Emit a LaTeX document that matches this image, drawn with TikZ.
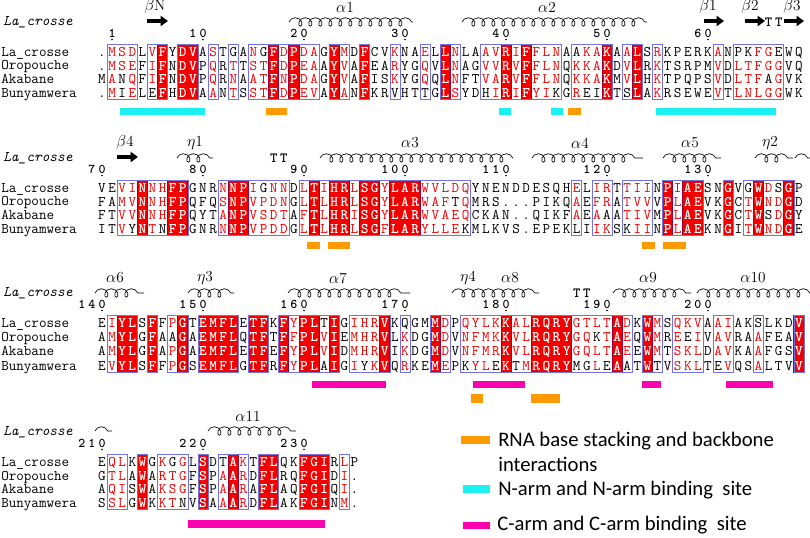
\documentclass[tikz,border=0pt]{standalone}
\usepackage{fontspec}
\setsansfont{Carlito}
\usepackage{tikz}
\usetikzlibrary{arrows.meta,decorations.pathmorphing}
\definecolor{espred}{HTML}{F20000}
\definecolor{espdark}{HTML}{9C0030}
\definecolor{espblue}{HTML}{7272E6}
\definecolor{rnaorange}{HTML}{FF9A00}
\definecolor{narmcyan}{HTML}{1CF0F0}
\definecolor{carmpink}{HTML}{FF00B0}
\tikzset{
  resblack/.style={font=\fontsize{11}{11}\ttfamily,inner sep=0pt,text height=6.7pt,text depth=0pt},
  resred/.style={resblack,text=espred},
  reswhite/.style={resblack,font=\fontsize{11}{11}\ttfamily\bfseries,text=white},
  resnum/.style={resblack,font=\fontsize{10}{10}\ttfamily\bfseries},
  resfill/.style={fill=espred,draw=espdark,line width=0.6pt},
  resbox/.style={draw=espblue,line width=0.5pt},
  seqname/.style={font=\fontsize{11}{11}\ttfamily,anchor=west,inner sep=0pt,text height=6.6pt,text depth=0pt},
  seqhead/.style={seqname,font=\fontsize{11}{11}\ttfamily\itshape},
  sslabel/.style={font=\fontsize{11.5}{11.5}\selectfont,inner sep=0pt},
  helix/.style={decorate,decoration={coil,aspect=0.9,amplitude=3.2pt,segment length=7.5pt},line width=0.5pt},
  strand/.style={line width=2.6pt,-{Triangle[length=5.5pt,width=7.5pt]}},
  ssturn/.style={font=\fontsize{10.5}{10.5}\ttfamily\bfseries,inner sep=0pt},
  legendtext/.style={font=\fontsize{15.5}{18}\sffamily,anchor=base west,inner sep=0pt}
}
\newcount\rescol
\newcommand\seqrow[5][resblack]{%
  \tikzset{resplain/.style={#1}}%
  \def\resid{#2}\rescol=#3\relax\def\resy{#4}\resscan#5\relax}
\newcommand\resscan[1]{%
  \ifx\relax#1\let\resnext\relax
  \else\ifx!#1\let\resnext\resbold
  \else
    \ifnum`#1>`Z\relax
      \node[resred] (\resid-\the\rescol) at ({102+10.1*\the\rescol},\resy) {\uppercase{#1}};%
    \else
      \node[resplain] (\resid-\the\rescol) at ({102+10.1*\the\rescol},\resy) {#1};%
    \fi
    \advance\rescol by 1\relax
    \let\resnext\resscan
  \fi\fi\resnext}
\newcommand\resbold[1]{%
  \node[reswhite] (\resid-\the\rescol) at ({102+10.1*\the\rescol},\resy) {#1};%
  \advance\rescol by 1\relax\resscan}

\begin{document}
\begin{tikzpicture}[x=0.75pt,y=-0.75pt]
\useasboundingbox (0,0) rectangle (810,538);

% block 1: residues 1-69
\foreach \a/\b in {6/6,8/9,17/17,19/19,23/23,26/26,34/34,40/40,42/42,50/50,53/53}
  \fill[resfill] (\a*10.1+96.95,44) rectangle (\b*10.1+107.05,99.5);
\foreach \a/\b in {1/3,5/6,8/9,11/11,13/13,15/21,23/24,26/26,29/29,32/32,34/35,38/45,47/50,52/53,55/55,61/61,63/67}
  \draw[resbox] (\a*10.1+96.95,44) rectangle (\b*10.1+107.05,99.5);
\node[seqhead] (hd1) at (3,21) {La\_crosse};
\node[seqname] (la1) at (1,52) {La\_crosse};
\node[seqname] (or1) at (1,65.6) {Oropouche};
\node[seqname] (ak1) at (1,79.2) {Akabane};
\node[seqname] (bu1) at (1,92.8) {Bunyamwera};
\seqrow{lac1}{0}{52}{.msdL v!FY!D!V AsTGA nG!Fd!P daG!Ym D!FCVkN AeL!Ln LAav!R i!Ffln AAka!K Aa!LSr KPERK aNPKfg EWQ}
\seqrow{oro1}{0}{65.6}{.mseFi!FN!D!V PqRtTst!Fd!P eaA!YvA!FEArY GqV!LnAGvv!R v!FflnQkka!K Dv!LRkTSRPM vDltfggVQ}
\seqrow{aka1}{0}{79.2}{MaNqFi!FN!D!V PqRnAat!Fn!P daG!YvA!FISkY GqQ!LnFTva!R v!FflnQkka!K Mv!LHkTPQPS vDltfAgVK}
\seqrow{bun1}{0}{92.8}{.mIeLE!FH!D!V AaNtSst!Fd!P evA!YaN!FKRVH TTG!LsYDHi!R i!FyiKGrEI!K TS!LAkRSEWE vTlnlggWK}
\foreach \s/\e/\n in {1/1/1,9/10/10,19/20/20,29/30/30,39/40/40,49/50/50,59/60/60}{
  \edef\numrow{\noexpand\seqrow[resnum]{nb1x\n}{\s}{33}{\n}}\numrow
  \fill (\e*10.1+102,39.5) circle[radius=0.9];}
\node[sslabel] (bN) at (155,7) {$\beta$N};
\draw[strand] (147,21) -- (168,21);
\node[sslabel] (a1) at (345,7) {$\alpha$1};
\draw[helix] (289,22) -- (413,22);
\node[sslabel] (a2) at (547,7) {$\alpha$2};
\draw[helix] (462,22) -- (647,22);
\node[sslabel] (b1) at (708,7) {$\beta$1};
\draw[strand] (704,21) -- (724,21);
\node[sslabel] (b2) at (750,7) {$\beta$2};
\draw[strand] (745,21) -- (765,21);
\node[ssturn] (t1a) at (768.6,22) {T};
\node[ssturn] (t1b) at (778.7,22) {T};
\node[sslabel] (b3) at (792,7) {$\beta$3};
\draw[strand] (784,21) -- (804,21);
\foreach \a/\b in {120/205,499/511,551/563,656/776}
  \fill[narmcyan] (\a,108) rectangle (\b,115.5);
\foreach \a/\b in {266/287,568/581}
  \fill[rnaorange] (\a,108) rectangle (\b,115.5);

% block 2: residues 70-139
\begin{scope}[shift={(0,136)}]
\foreach \a/\b in {4/4,7/8,13/14,21/21,23/24,26/27,29/31,56/56,58/59,62/62,65/65,68/68}
  \fill[resfill] (\a*10.1+96.95,44) rectangle (\b*10.1+107.05,99.5);
\foreach \a/\b in {2/8,12/18,20/36,47/47,49/50,52/54,56/59,62/62,64/68}
  \draw[resbox] (\a*10.1+96.95,44) rectangle (\b*10.1+107.05,99.5);
\node[seqhead] (hd2) at (3,21) {La\_crosse};
\node[seqname] (la2) at (1,52) {La\_crosse};
\node[seqname] (or2) at (1,65.6) {Oropouche};
\node[seqname] (ak2) at (1,79.2) {Akabane};
\node[seqname] (bu2) at (1,92.8) {Bunyamwera};
\seqrow{lac2}{0}{52}{VEvi!Nnh!F!PG NRn!N!PiGnnD l!Ti!H!Rl!S!Gy!L !A!Rwvldq YNE NDDESQHeLi rTtiiN!Pi!A!E SN!GVG!WdS!GP}
\seqrow{oro2}{0}{65.6}{FAmv!Nnh!F!PQ FQs!N!PvpdnG l!Tl!H!Rl!S!Gy!L !A!RwafTqMRS ...PIKQaEf rAtvvV!Pl!A!E VK!GCt!Wnd!GD}
\seqrow{aka2}{0}{79.2}{FTvv!Nnh!F!PQ YTa!N!PvsdtA f!Tl!H!Ri!S!Gy!L !A!RwvaeqCKA N..QIKFaEa AAtivM!Pl!A!E VK!GCt!WSd!GY}
\seqrow{bun2}{0}{92.8}{ITvY!NtN!F!PG NRn!N!PvpddG l!Tl!H!Rl!S!Gf!L !A!RylleKMLK VS.EPEKLIi kSKiiN!Pl!A!E KN!GIt!Wnd!GE}
\foreach \s/\e/\n in {-1/0/70,9/10/80,19/20/90,28/30/100,38/40/110,48/50/120,58/60/130}{
  \edef\numrow{\noexpand\seqrow[resnum]{nb2x\n}{\s}{33}{\n}}\numrow
  \fill (\e*10.1+102,39.5) circle[radius=0.9];}
\node[sslabel] (b4) at (125,7) {$\beta$4};
\draw[strand] (117,21) -- (138,21);
\node[sslabel] (e1) at (195,7) {$\eta$1};
\draw[helix] (177,22) -- (213,22);
\node[ssturn] (t2a) at (273.7,22) {T};
\node[ssturn] (t2b) at (283.8,22) {T};
\node[sslabel] (a3) at (410,7) {$\alpha$3};
\draw[helix] (320,22) -- (513,22);
\node[sslabel] (a4) at (580,7) {$\alpha$4};
\draw[helix] (532,22) -- (643,22);
\node[sslabel] (a5) at (690,7) {$\alpha$5};
\draw[helix] (663,22) -- (721,22);
\node[sslabel] (e2) at (770,7) {$\eta$2};
\draw[helix] (755,22) -- (793,22);
\draw[helix] (795,22) -- (812,22);
\foreach \a/\b in {307/320,328/350,642/655,663/686}
  \fill[rnaorange] (\a,106) rectangle (\b,113.5);
\end{scope}

% block 3: residues 140-209
\begin{scope}[shift={(0,271)}]
\foreach \a/\b in {2/3,5/5,8/8,10/13,15/16,18/18,20/21,23/23,28/28,33/33,40/40,43/46,51/51,54/54,69/69}
  \fill[resfill] (\a*10.1+96.95,44) rectangle (\b*10.1+107.05,101.5);
\foreach \a/\b in {1/3,5/5,7/8,10/13,15/16,18/23,25/28,30/30,33/34,36/52,54/55,57/59,61/62,65/65,69/69}
  \draw[resbox] (\a*10.1+96.95,44) rectangle (\b*10.1+107.05,101.5);
\node[seqhead] (hd3) at (3,21) {La\_crosse};
\node[seqname] (la3) at (1,52) {La\_crosse};
\node[seqname] (or3) at (1,66.2) {Oropouche};
\node[seqname] (ak3) at (1,80.4) {Akabane};
\node[seqname] (bu3) at (1,94.6) {Bunyamwera};
\seqrow{lac3}{0}{52}{Ei!Y!LS!FFp!GT !E!M!F!LE!T!FK!Fy !P!LT!IGihr!VK QGM!MdPqylk !Kal!R!Q!R!Ygtl t!AdK!WmSqkv AaiAKSLKD!V}
\seqrow{oro3}{0}{66.2}{Am!Y!LG!FAA!GA !E!M!F!LQ!T!FT!Ff !P!Lv!IEmhr!VL kDG!MdVnfmk !Kvl!R!Q!R!YgqK t!AeQ!WmReEi VavRAaFEA!V}
\seqrow{aka3}{0}{80.4}{Am!Y!LG!FAp!GA !E!M!F!LE!T!FE!Fy !P!Lv!IDmhr!VI kDG!MdVnfmr !Kvl!R!Q!R!Ygql t!AeE!WmTskl DavKAaFGS!V}
\seqrow{bun3}{0}{94.6}{Ev!Y!LS!FFp!GS !E!M!F!LG!T!FR!Fy !P!LA!IGiYk!VQ rKE!MePKylE !KTm!R!Q!R!YMGl E!AAT!WTVskl TEvQSaLTV!V}
\foreach \s/\e/\n in {-2/0/140,8/10/150,18/20/160,28/30/170,38/40/180,48/50/190,58/60/200}{
  \edef\numrow{\noexpand\seqrow[resnum]{nb3x\n}{\s}{33}{\n}}\numrow
  \fill (\e*10.1+102,39.5) circle[radius=0.9];}
\node[sslabel] (a6) at (115,7) {$\alpha$6};
\draw[helix] (95,22) -- (144,22);
\node[sslabel] (e3) at (205,7) {$\eta$3};
\draw[helix] (188,22) -- (234,22);
\node[sslabel] (a7) at (338,7) {$\alpha$7};
\draw[helix] (288,22) -- (410,22);
\node[sslabel] (e4) at (468,7) {$\eta$4};
\node[sslabel] (a8) at (510,7) {$\alpha$8};
\draw[helix] (452,22) -- (539,22);
\node[ssturn] (t3a) at (576.7,22) {T};
\node[ssturn] (t3b) at (586.8,22) {T};
\node[sslabel] (a9) at (648,7) {$\alpha$9};
\draw[helix] (613,22) -- (691,22);
\node[sslabel] (a10) at (753,7) {$\alpha$10};
\draw[helix] (697,22) -- (814,22);
\foreach \a/\b in {312/386,473/525,642/661,726/773}
  \fill[carmpink] (\a,110) rectangle (\b,117);
\foreach \a/\b in {471/483,531/560}
  \fill[rnaorange] (\a,123) rectangle (\b,131.5);
\end{scope}

% block 4: residues 210-235
\begin{scope}[shift={(0,410)}]
\foreach \a/\b in {4/4,10/10,13/13,16/17,20/22}
  \fill[resfill] (\a*10.1+96.95,44) rectangle (\b*10.1+107.05,99.5);
\foreach \a/\b in {1/2,4/4,6/8,10/10,12/14,16/17,20/22,24/24}
  \draw[resbox] (\a*10.1+96.95,44) rectangle (\b*10.1+107.05,99.5);
\node[seqhead] (hd4) at (3,21) {La\_crosse};
\node[seqname] (la4) at (1,52) {La\_crosse};
\node[seqname] (or4) at (1,65.6) {Oropouche};
\node[seqname] (ak4) at (1,79.2) {Akabane};
\node[seqname] (bu4) at (1,92.8) {Bunyamwera};
\seqrow{lac4}{0}{52}{EqlK!WGkGgL !SDT!AkT!F!LQK !F!G!IRlP}
\seqrow{oro4}{0}{65.6}{GtlA!WArtgF !SPa!ArD!F!LRQ !F!G!IDi.}
\seqrow{aka4}{0}{79.2}{AqiS!WAksgF !SPa!ArA!F!LAQ !F!G!IQi.}
\seqrow{bun4}{0}{92.8}{SslG!WKktNV !SAa!ArD!F!LAK !F!G!INm.}
\foreach \s/\e/\n in {-2/0/210,8/10/220,18/20/230}{
  \edef\numrow{\noexpand\seqrow[resnum]{nb4x\n}{\s}{33}{\n}}\numrow
  \fill (\e*10.1+102,39.5) circle[radius=0.9];}
\draw[helix] (95,21) -- (112,21);
\node[sslabel] (a11) at (248,6) {$\alpha$11};
\draw[helix] (208,21) -- (296,21);
\fill[carmpink] (188,110) rectangle (325,118);
\end{scope}

% legend
\fill[rnaorange] (461,436) rectangle (490,444);
\node[legendtext] (lg1) at (498,446.5) {RNA base stacking and backbone};
\node[legendtext] (lg2) at (498,471) {interactions};
\fill[narmcyan] (463,485) rectangle (490,493);
\node[legendtext] (lg3) at (498,495.5) {N-arm and N-arm binding\ \ site};
\fill[carmpink] (463,522) rectangle (490,529);
\node[legendtext] (lg4) at (497,530.5) {C-arm and C-arm binding\ \ site};
\end{tikzpicture}
\end{document}
